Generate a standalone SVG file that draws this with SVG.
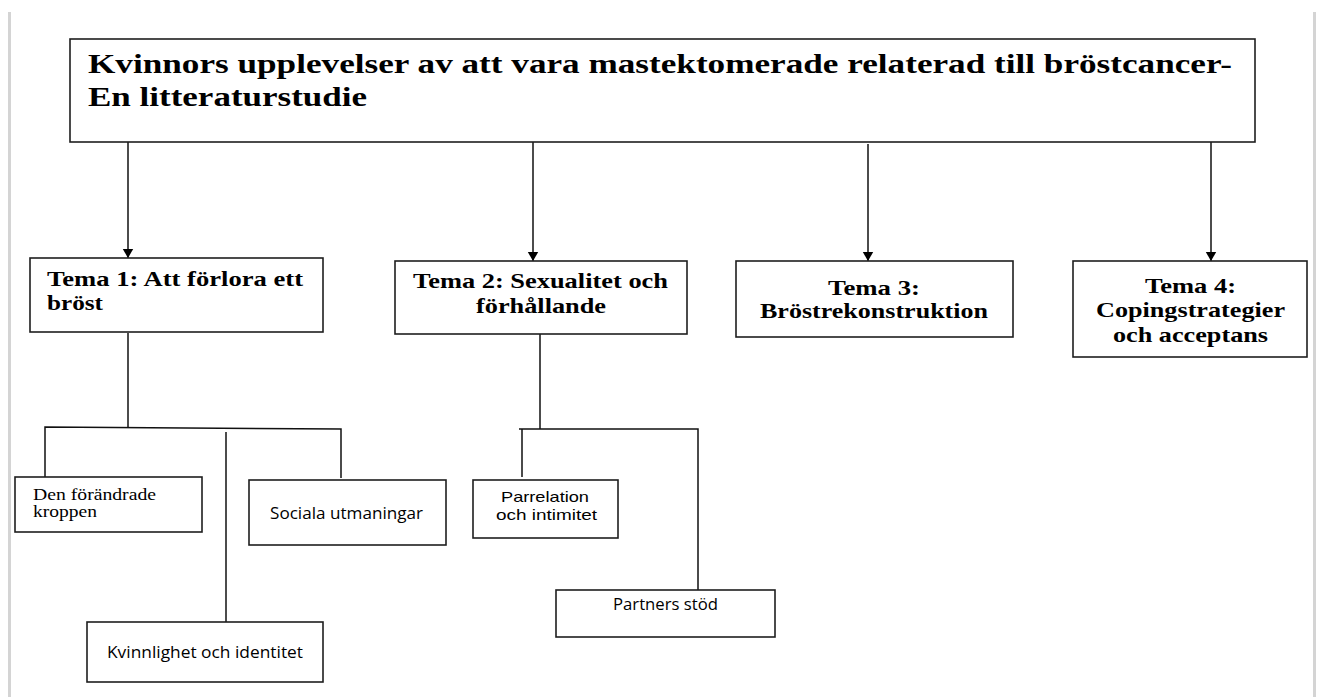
<svg xmlns="http://www.w3.org/2000/svg" width="1320" height="697" viewBox="0 0 1320 697">
<style>
.box{fill:#fff;stroke:#1e1e1e;stroke-width:1.6}
.conn{fill:none;stroke:#111;stroke-width:1.5}
.ttl{font-family:"Liberation Serif","Times New Roman",serif;font-weight:bold;font-size:28px;fill:#000}
.tema{font-family:"Liberation Serif","Times New Roman",serif;font-weight:bold;font-size:22px;fill:#000}
.ser{font-family:"Liberation Serif","Times New Roman",serif;font-size:16px;fill:#000}
.sans{font-family:"Open Sans","Liberation Sans",sans-serif;font-size:15.5px;fill:#000}
.sans2{font-family:"Liberation Sans","Open Sans",sans-serif;font-size:15px;fill:#000}
.gb{fill:#d4d4d4}
</style>
<defs>
<marker id="ah" markerUnits="userSpaceOnUse" markerWidth="11" markerHeight="12" refX="9.5" refY="5.5" orient="auto">
<path d="M0,0 L9.5,5.5 L0,11 z" fill="#000"/>
</marker>
</defs>
<rect width="1320" height="697" fill="#fff"/>
<rect class="gb" x="8" y="12" width="3" height="685"/>
<rect class="gb" x="1313" y="12" width="3" height="685"/>

<g id="connectors">
<line class="conn" x1="128" y1="142" x2="128" y2="258" marker-end="url(#ah)"/>
<line class="conn" x1="533" y1="142" x2="533" y2="261" marker-end="url(#ah)"/>
<line class="conn" x1="868" y1="144" x2="868" y2="261" marker-end="url(#ah)"/>
<line class="conn" x1="1211" y1="142" x2="1211" y2="261" marker-end="url(#ah)"/>
<path class="conn" d="M128,333 V428"/>
<path class="conn" d="M45,477 V427 L341,429 V478"/>
<path class="conn" d="M226,432 V622"/>
<path class="conn" d="M540,334 V429"/>
<path class="conn" d="M522,477 V429 M519,429 H698 V590"/>
</g>

<g id="title">
<rect class="box" x="70" y="39" width="1185" height="103"/>
<text class="ttl" x="88" y="73" textLength="1144" lengthAdjust="spacingAndGlyphs">Kvinnors upplevelser av att vara mastektomerade relaterad till bröstcancer-</text>
<text class="ttl" x="88" y="106" textLength="279" lengthAdjust="spacingAndGlyphs">En litteraturstudie</text>
</g>

<g id="tema1">
<rect class="box" x="30" y="258" width="293" height="74"/>
<text class="tema" x="47" y="286" textLength="256" lengthAdjust="spacingAndGlyphs">Tema 1: Att förlora ett</text>
<text class="tema" x="47" y="310" textLength="56" lengthAdjust="spacingAndGlyphs">bröst</text>
</g>

<g id="tema2">
<rect class="box" x="395" y="261" width="292" height="73"/>
<text class="tema" x="413" y="288" textLength="255" lengthAdjust="spacingAndGlyphs">Tema 2: Sexualitet och</text>
<text class="tema" x="476" y="313" textLength="130" lengthAdjust="spacingAndGlyphs">förhållande</text>
</g>

<g id="tema3">
<rect class="box" x="736" y="261" width="277" height="76"/>
<text class="tema" x="828" y="295" textLength="92" lengthAdjust="spacingAndGlyphs">Tema 3:</text>
<text class="tema" x="760" y="318" textLength="228" lengthAdjust="spacingAndGlyphs">Bröstrekonstruktion</text>
</g>

<g id="tema4">
<rect class="box" x="1073" y="261" width="234" height="96"/>
<text class="tema" x="1145" y="293" textLength="91" lengthAdjust="spacingAndGlyphs">Tema 4:</text>
<text class="tema" x="1096" y="317" textLength="189" lengthAdjust="spacingAndGlyphs">Copingstrategier</text>
<text class="tema" x="1113" y="342" textLength="155" lengthAdjust="spacingAndGlyphs">och acceptans</text>
</g>

<g id="den-forandrade-kroppen">
<rect class="box" x="15" y="477" width="187" height="55"/>
<text class="ser" x="33" y="500" textLength="123" lengthAdjust="spacingAndGlyphs">Den förändrade</text>
<text class="ser" x="33" y="517" textLength="64" lengthAdjust="spacingAndGlyphs">kroppen</text>
</g>

<g id="sociala-utmaningar">
<rect class="box" x="249" y="480" width="197" height="65"/>
<text class="sans" x="270" y="519" textLength="153" lengthAdjust="spacingAndGlyphs">Sociala utmaningar</text>
</g>

<g id="kvinnlighet-och-identitet">
<rect class="box" x="87" y="622" width="236" height="60"/>
<text class="sans" x="107" y="658" textLength="196" lengthAdjust="spacingAndGlyphs">Kvinnlighet och identitet</text>
</g>

<g id="parrelation-och-intimitet">
<rect class="box" x="473" y="480" width="145" height="58"/>
<text class="sans2" x="501" y="502" textLength="88" lengthAdjust="spacingAndGlyphs">Parrelation</text>
<text class="sans2" x="496" y="520" textLength="101" lengthAdjust="spacingAndGlyphs">och intimitet</text>
</g>

<g id="partners-stod">
<rect class="box" x="556" y="590" width="219" height="47"/>
<text class="sans" x="613" y="610" textLength="105" lengthAdjust="spacingAndGlyphs">Partners stöd</text>
</g>
</svg>
